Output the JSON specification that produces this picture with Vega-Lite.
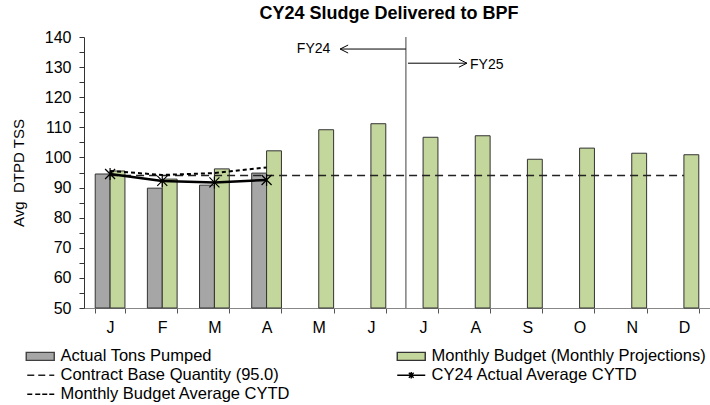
{
  "$schema": "https://vega.github.io/schema/vega-lite/v6.json",
  "width": 626,
  "height": 271,
  "autosize": {"type": "none"},
  "padding": {"left": 84, "top": 37, "right": 0, "bottom": 97},
  "background": "white",
  "title": {"text": "CY24 Sludge Delivered to BPF", "font": "Liberation Sans", "fontSize": 18, "fontWeight": "bold", "color": "#000", "anchor": "middle", "frame": "group", "offset": 6, "dx": -8},
  "config": {
    "view": {"stroke": null},
    "font": "Liberation Sans",
    "axis": {"grid": false},
    "axisY": {"labelOverlap": false, "tickSize": 5, "tickWidth": 1, "domainColor": "#333", "tickColor": "#333", "labelFontSize": 16, "labelColor": "#000", "labelPadding": 8, "labelFont": "Liberation Sans", "titleFont": "Liberation Sans", "titleFontSize": 15, "titleFontWeight": "normal", "titleColor": "#000", "titlePadding": 18}
  },
  "datasets": {
    "bars": [
      {"month": "Jan", "series": "Actual Tons Pumped", "value": 94.5},
      {"month": "Feb", "series": "Actual Tons Pumped", "value": 89.8},
      {"month": "Mar", "series": "Actual Tons Pumped", "value": 90.8},
      {"month": "Apr", "series": "Actual Tons Pumped", "value": 94.8},
      {"month": "Jan", "series": "Monthly Budget (Monthly Projections)", "value": 95.5},
      {"month": "Feb", "series": "Monthly Budget (Monthly Projections)", "value": 92.8},
      {"month": "Mar", "series": "Monthly Budget (Monthly Projections)", "value": 96.2},
      {"month": "Apr", "series": "Monthly Budget (Monthly Projections)", "value": 102.2},
      {"month": "May", "series": "Monthly Budget (Monthly Projections)", "value": 109.2},
      {"month": "Jun", "series": "Monthly Budget (Monthly Projections)", "value": 111.2},
      {"month": "Jul", "series": "Monthly Budget (Monthly Projections)", "value": 106.7},
      {"month": "Aug", "series": "Monthly Budget (Monthly Projections)", "value": 107.2},
      {"month": "Sep", "series": "Monthly Budget (Monthly Projections)", "value": 99.4},
      {"month": "Oct", "series": "Monthly Budget (Monthly Projections)", "value": 103.1},
      {"month": "Nov", "series": "Monthly Budget (Monthly Projections)", "value": 101.4},
      {"month": "Dec", "series": "Monthly Budget (Monthly Projections)", "value": 100.9}
    ],
    "avg": [
      {"month": "Jan", "actualAvg": 94.5, "budgetAvg": 95.5},
      {"month": "Feb", "actualAvg": 92.2, "budgetAvg": 94.2},
      {"month": "Mar", "actualAvg": 91.7, "budgetAvg": 94.8},
      {"month": "Apr", "actualAvg": 92.5, "budgetAvg": 96.7}
    ],
    "contract": [
      {"month": "Jan", "value": 94}, {"month": "Feb", "value": 94}, {"month": "Mar", "value": 94},
      {"month": "Apr", "value": 94}, {"month": "May", "value": 94}, {"month": "Jun", "value": 94},
      {"month": "Jul", "value": 94}, {"month": "Aug", "value": 94}, {"month": "Sep", "value": 94},
      {"month": "Oct", "value": 94}, {"month": "Nov", "value": 94}, {"month": "Dec", "value": 94}
    ],
    "legendItems": [
      {"series": "Actual Tons Pumped"},
      {"series": "Monthly Budget (Monthly Projections)"},
      {"series": "Contract Base Quantity (95.0)"},
      {"series": "CY24 Actual Average CYTD"},
      {"series": "Monthly Budget Average CYTD"}
    ],
    "divider": [{"pos": 6.17, "top": 140, "bottom": 50}],
    "arrows": [
      {"label": "FY24", "from": 6.17, "to": 4.91, "y": 136.0, "textX": 4.08, "textY": 136.0},
      {"label": "FY25", "from": 6.21, "to": 7.34, "y": 131.3, "textX": 7.4, "textY": 130.8}
    ]
  },
  "resolve": {"scale": {"x": "independent"}},
  "layer": [
    {
      "layer": [
        {
          "data": {"name": "bars"},
          "mark": {"type": "bar", "stroke": "#333", "strokeWidth": 1},
          "encoding": {
            "x": {
              "field": "month", "type": "nominal",
              "scale": {"domain": ["Jan","Feb","Mar","Apr","May","Jun","Jul","Aug","Sep","Oct","Nov","Dec"], "paddingInner": 0.43, "paddingOuter": 0.215},
              "axis": {"title": null, "labelExpr": "substring(datum.label, 0, 1)", "labelAngle": 0, "tickBand": "extent", "tickSize": 5, "domainColor": "#888", "tickColor": "#555", "labelFontSize": 16, "labelColor": "#000", "labelPadding": 6, "labelFont": "Liberation Sans"}
            },
            "xOffset": {"field": "series", "type": "nominal", "scale": {"domain": ["Actual Tons Pumped", "Monthly Budget (Monthly Projections)"], "paddingInner": 0, "paddingOuter": 0}},
            "y": {
              "field": "value", "type": "quantitative", "stack": null,
              "scale": {"domain": [50, 140], "nice": false, "zero": false},
              "axis": {"title": "Avg\u00a0\u00a0DTPD TSS", "values": [50,55,60,65,70,75,80,85,90,95,100,105,110,115,120,125,130,135,140], "labelExpr": "datum.value % 10 === 0 ? datum.label : ''"}
            },
            "fill": {"field": "series", "type": "nominal",
              "scale": {"domain": ["Actual Tons Pumped", "Monthly Budget (Monthly Projections)", "Contract Base Quantity (95.0)", "CY24 Actual Average CYTD", "Monthly Budget Average CYTD"],
                        "range": ["#A6A6A6", "#C3D69B", "transparent", "transparent", "transparent"]},
              "legend": {"title": null, "orient": "none", "legendX": -62, "legendY": 311, "columns": 2, "direction": "horizontal", "gridAlign": "each", "symbolSize": 64, "symbolStrokeWidth": 1.4, "labelFont": "Liberation Sans", "labelFontSize": 16.5, "labelColor": "#000", "labelOffset": 22, "labelLimit": 500, "columnPadding": 102, "rowPadding": 2, "padding": 0}}
          }
        },
        {
          "data": {"name": "contract"},
          "mark": {"type": "line", "color": "#222", "strokeWidth": 1.5, "strokeDash": [8, 5]},
          "encoding": {
            "x": {"field": "month", "type": "nominal"},
            "y": {"field": "value", "type": "quantitative", "axis": {"title": "Avg\u00a0\u00a0DTPD TSS", "values": [50,55,60,65,70,75,80,85,90,95,100,105,110,115,120,125,130,135,140], "labelExpr": "datum.value % 10 === 0 ? datum.label : ''"}}
          }
        },
        {
          "data": {"name": "avg"},
          "mark": {"type": "line", "color": "#000", "strokeWidth": 2, "strokeDash": [4, 3]},
          "encoding": {
            "x": {"field": "month", "type": "nominal"},
            "y": {"field": "budgetAvg", "type": "quantitative", "axis": {"title": "Avg\u00a0\u00a0DTPD TSS", "values": [50,55,60,65,70,75,80,85,90,95,100,105,110,115,120,125,130,135,140], "labelExpr": "datum.value % 10 === 0 ? datum.label : ''"}}
          }
        },
        {
          "data": {"name": "avg"},
          "mark": {"type": "line", "color": "#000", "strokeWidth": 2.5},
          "encoding": {
            "x": {"field": "month", "type": "nominal"},
            "y": {"field": "actualAvg", "type": "quantitative", "axis": {"title": "Avg\u00a0\u00a0DTPD TSS", "values": [50,55,60,65,70,75,80,85,90,95,100,105,110,115,120,125,130,135,140], "labelExpr": "datum.value % 10 === 0 ? datum.label : ''"}}
          }
        },
        {
          "data": {"name": "avg"},
          "mark": {"type": "point", "shape": "M-1,-1L1,1M-1,1L1,-1M0,-1.2V1.2", "size": 100, "filled": false, "stroke": "#000", "strokeWidth": 1.2, "opacity": 1},
          "encoding": {
            "x": {"field": "month", "type": "nominal"},
            "y": {"field": "actualAvg", "type": "quantitative", "axis": {"title": "Avg\u00a0\u00a0DTPD TSS", "values": [50,55,60,65,70,75,80,85,90,95,100,105,110,115,120,125,130,135,140], "labelExpr": "datum.value % 10 === 0 ? datum.label : ''"}}
          }
        },
        {
          "data": {"name": "legendItems"},
          "transform": [{"filter": "datum.series === 'none'"}],
          "mark": {"type": "point", "filled": true, "opacity": 1},
          "encoding": {
            "shape": {"field": "series", "type": "nominal",
              "scale": {"domain": ["Actual Tons Pumped", "Monthly Budget (Monthly Projections)", "Contract Base Quantity (95.0)", "CY24 Actual Average CYTD", "Monthly Budget Average CYTD"],
                        "range": ["M-1,-1H6V1H-1Z", "M-1,-1H6V1H-1Z", "M-0.75,0H1M2,0H3.75M4.75,0H6", "M-1,0H6M1.9,-0.6L3.1,0.6M1.9,0.6L3.1,-0.6M2.5,-0.8V0.8", "M-0.75,0H0.5M1.25,0H2.5M3,0H4.25M4.75,0H6"]},
              "legend": {"title": null, "orient": "none", "legendX": -62, "legendY": 311, "columns": 2, "direction": "horizontal", "gridAlign": "each", "symbolSize": 64, "symbolStrokeWidth": 1.4, "labelFont": "Liberation Sans", "labelFontSize": 16.5, "labelColor": "#000", "labelOffset": 22, "labelLimit": 500, "columnPadding": 102, "rowPadding": 2, "padding": 0}},
            "fill": {"field": "series", "type": "nominal"},
            "stroke": {"field": "series", "type": "nominal",
              "scale": {"domain": ["Actual Tons Pumped", "Monthly Budget (Monthly Projections)", "Contract Base Quantity (95.0)", "CY24 Actual Average CYTD", "Monthly Budget Average CYTD"],
                        "range": ["#404040", "#333333", "#222222", "#000000", "#000000"]},
              "legend": {"title": null, "orient": "none", "legendX": -62, "legendY": 311, "columns": 2, "direction": "horizontal", "gridAlign": "each", "symbolSize": 64, "symbolStrokeWidth": 1.4, "labelFont": "Liberation Sans", "labelFontSize": 16.5, "labelColor": "#000", "labelOffset": 22, "labelLimit": 500, "columnPadding": 102, "rowPadding": 2, "padding": 0}}
          }
        }
      ]
    },
    {
      "layer": [
        {
          "data": {"name": "divider"},
          "mark": {"type": "rule", "color": "#7f7f7f", "strokeWidth": 1.5},
          "encoding": {
            "x": {"field": "pos", "type": "quantitative", "scale": {"domain": [0, 12], "nice": false, "zero": false}, "axis": null},
            "y": {"field": "top", "type": "quantitative", "axis": {"title": "Avg\u00a0\u00a0DTPD TSS", "values": [50,55,60,65,70,75,80,85,90,95,100,105,110,115,120,125,130,135,140], "labelExpr": "datum.value % 10 === 0 ? datum.label : ''"}},
            "y2": {"field": "bottom"}
          }
        },
        {
          "data": {"name": "arrows"},
          "mark": {"type": "rule", "color": "#000", "strokeWidth": 1},
          "encoding": {
            "x": {"field": "from", "type": "quantitative", "scale": {"domain": [0, 12], "nice": false, "zero": false}, "axis": null},
            "x2": {"field": "to"},
            "y": {"field": "y", "type": "quantitative", "axis": {"title": "Avg\u00a0\u00a0DTPD TSS", "values": [50,55,60,65,70,75,80,85,90,95,100,105,110,115,120,125,130,135,140], "labelExpr": "datum.value % 10 === 0 ? datum.label : ''"}}
          }
        },
        {
          "data": {"name": "arrows"},
          "transform": [{"filter": "datum.label === 'FY24'"}],
          "mark": {"type": "point", "shape": "M1.6,-0.8L0,0L1.6,0.8", "size": 100, "filled": false, "stroke": "#000", "strokeWidth": 1, "opacity": 1},
          "encoding": {
            "x": {"field": "to", "type": "quantitative", "scale": {"domain": [0, 12], "nice": false, "zero": false}, "axis": null},
            "y": {"field": "y", "type": "quantitative", "axis": {"title": "Avg\u00a0\u00a0DTPD TSS", "values": [50,55,60,65,70,75,80,85,90,95,100,105,110,115,120,125,130,135,140], "labelExpr": "datum.value % 10 === 0 ? datum.label : ''"}}
          }
        },
        {
          "data": {"name": "arrows"},
          "transform": [{"filter": "datum.label === 'FY25'"}],
          "mark": {"type": "point", "shape": "M-1.6,-0.8L0,0L-1.6,0.8", "size": 100, "filled": false, "stroke": "#000", "strokeWidth": 1, "opacity": 1},
          "encoding": {
            "x": {"field": "to", "type": "quantitative", "scale": {"domain": [0, 12], "nice": false, "zero": false}, "axis": null},
            "y": {"field": "y", "type": "quantitative", "axis": {"title": "Avg\u00a0\u00a0DTPD TSS", "values": [50,55,60,65,70,75,80,85,90,95,100,105,110,115,120,125,130,135,140], "labelExpr": "datum.value % 10 === 0 ? datum.label : ''"}}
          }
        },
        {
          "data": {"name": "arrows"},
          "mark": {"type": "text", "align": "left", "baseline": "middle", "font": "Liberation Sans", "fontSize": 14, "color": "#000"},
          "encoding": {
            "x": {"field": "textX", "type": "quantitative", "scale": {"domain": [0, 12], "nice": false, "zero": false}, "axis": null},
            "y": {"field": "textY", "type": "quantitative", "axis": {"title": "Avg\u00a0\u00a0DTPD TSS", "values": [50,55,60,65,70,75,80,85,90,95,100,105,110,115,120,125,130,135,140], "labelExpr": "datum.value % 10 === 0 ? datum.label : ''"}},
            "text": {"field": "label"}
          }
        }
      ]
    }
  ]
}
